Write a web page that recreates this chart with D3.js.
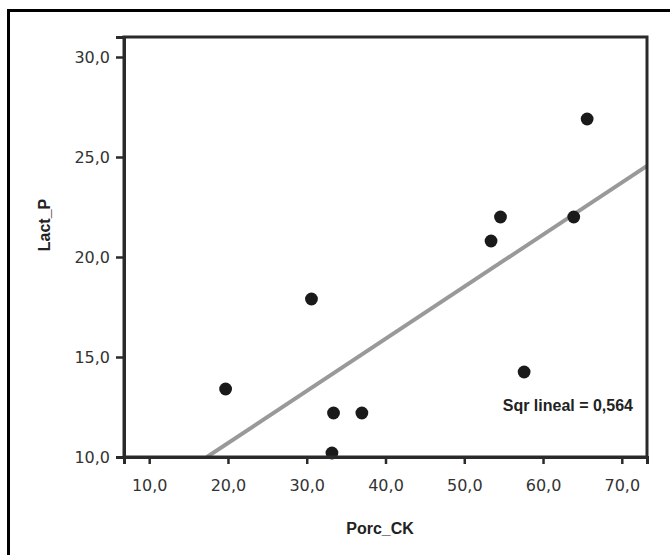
<!DOCTYPE html>
<html>
<head>
<meta charset="utf-8">
<script src="https://cdn.jsdelivr.net/npm/d3@7"></script>
<style>
  body { margin: 0; background: #fff; }
  svg { display: block; }
</style>
</head>
<body>
<svg id="chart"></svg>
<script>
var width = 670;
var height = 555;

// values
var porcCK = [19.7, 30.6, 33.2, 33.4, 37.0, 53.4, 54.6, 57.6, 63.9, 65.6];
var lactP = [13.4, 17.9, 10.2, 12.2, 12.2, 20.8, 22.0, 14.25, 22.0, 26.9];
var xTicks = [10, 20, 30, 40, 50, 60, 70];
var yTicks = [10, 15, 20, 25, 30];

var plotL = 124, plotR = 647, plotT = 37, plotB = 457;

var svg = d3.select("#chart").attr("width", width).attr("height", height);

var fmt = function(d) { return d3.format(".1f")(d).replace(".", ","); };

var x = d3.scaleLinear().domain([6.8, 73.2]).range([plotL, plotR]);
var y = d3.scaleLinear().domain([10, 31]).range([plotB, plotT]);

// outer frame (runs off the right and bottom edges)
svg.append("rect")
  .attr("x", 8.5).attr("y", 10.5)
  .attr("width", 700).attr("height", 600)
  .attr("fill", "none").attr("stroke", "#000").attr("stroke-width", 3);

// least squares fit
var mx = d3.mean(porcCK), my = d3.mean(lactP);
var sxy = 0, sxx = 0, syy = 0;
porcCK.forEach(function(v, i) {
  sxy += (v - mx) * (lactP[i] - my);
  sxx += (v - mx) * (v - mx);
  syy += (lactP[i] - my) * (lactP[i] - my);
});
var slope = sxy / sxx;
var icpt = my - slope * mx;
var r2 = sxy * sxy / (sxx * syy);

svg.append("clipPath").attr("id", "plotclip")
  .append("rect")
  .attr("x", plotL).attr("y", plotT)
  .attr("width", plotR - plotL).attr("height", plotB - plotT);

var x0 = (10 - icpt) / slope;
var x1 = x.domain()[1];
svg.append("line")
  .attr("clip-path", "url(#plotclip)")
  .attr("x1", x(x0)).attr("y1", y(10))
  .attr("x2", x(x1)).attr("y2", y(icpt + slope * x1))
  .attr("stroke", "#999").attr("stroke-width", 4);

// points
svg.selectAll("circle.pt")
  .data(porcCK)
  .enter().append("circle")
  .attr("class", "pt")
  .attr("cx", function(d) { return x(d); })
  .attr("cy", function(d, i) { return y(lactP[i]); })
  .attr("r", 6.4)
  .attr("fill", "#1a1a1a");

// plot box
svg.append("rect")
  .attr("x", plotL).attr("y", plotT)
  .attr("width", plotR - plotL).attr("height", plotB - plotT)
  .attr("fill", "none").attr("stroke", "#2a2a2a").attr("stroke-width", 3);

// axes
var xAxis = d3.axisBottom(x).tickValues(xTicks).tickFormat(fmt).tickSize(7).tickPadding(16);
var yAxis = d3.axisLeft(y).tickValues(yTicks).tickFormat(fmt).tickSize(8).tickPadding(6);

var gx = svg.append("g").attr("transform", "translate(0," + plotB + ")").call(xAxis);
var gy = svg.append("g").attr("transform", "translate(" + plotL + ",0)").call(yAxis);

[gx, gy].forEach(function(g) {
  g.select(".domain").attr("stroke", "#2a2a2a").attr("stroke-width", 3);
  g.selectAll(".tick line").attr("stroke", "#2a2a2a").attr("stroke-width", 2.5);
  g.selectAll(".tick text")
    .attr("fill", "#333")
    .style("font-family", "'DejaVu Sans', Verdana, sans-serif")
    .style("font-size", "16px");
});

// titles
var titleFont = "'Liberation Sans Narrow', 'Arial Narrow', sans-serif";

svg.append("text")
  .attr("x", 380).attr("y", 534)
  .attr("text-anchor", "middle")
  .style("font-family", titleFont)
  .style("font-weight", "bold")
  .style("font-size", "16px")
  .attr("fill", "#222")
  .text("Porc_CK");

svg.append("text")
  .attr("transform", "translate(50,225) rotate(-90)")
  .attr("text-anchor", "middle")
  .style("font-family", titleFont)
  .style("font-weight", "bold")
  .style("font-size", "16px")
  .attr("fill", "#222")
  .text("Lact_P");

svg.append("text")
  .attr("x", 633).attr("y", 411)
  .attr("text-anchor", "end")
  .style("font-family", titleFont)
  .style("font-weight", "bold")
  .style("font-size", "16px")
  .attr("fill", "#222")
  .text("Sqr lineal = " + d3.format(".3f")(r2).replace(".", ","));
</script>
</body>
</html>
